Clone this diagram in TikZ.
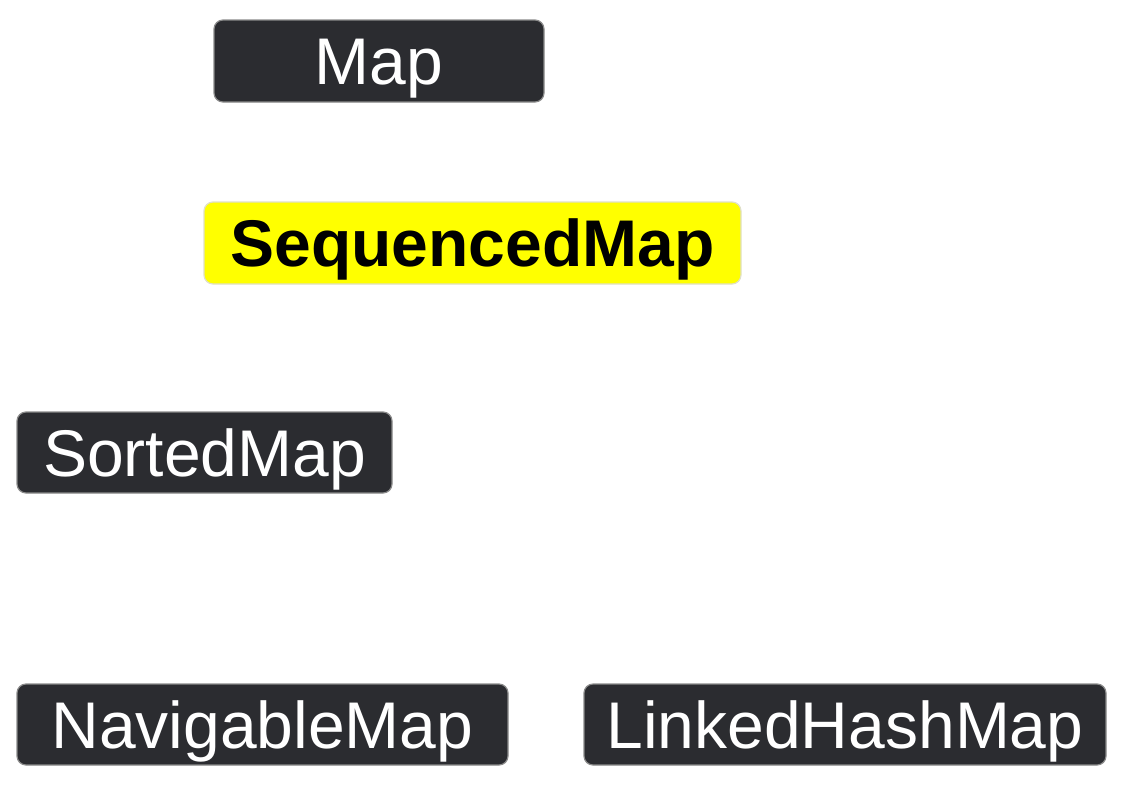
\documentclass[tikz,border=0pt]{standalone}
\usepackage{fontspec}
\setmainfont{Liberation Sans}
\definecolor{boxdark}{HTML}{2B2C30}
\definecolor{boxedge}{HTML}{8A8A8A}
\definecolor{hiedge}{HTML}{E0E0C8}
\definecolor{hiyellow}{HTML}{FFFF00}
\tikzset{
  mapbox/.style={draw=boxedge, line width=1.2pt, fill=boxdark, text=white, rounded corners=9pt,
    inner xsep=0pt, inner ysep=0pt, text height=47pt, text depth=0pt,
    font=\fontsize{66}{70}\selectfont},
  hibox/.style={mapbox, draw=hiedge, fill=hiyellow, text=black, font=\fontsize{66}{70}\selectfont\bfseries}
}
\begin{document}
\begin{tikzpicture}[x=1pt,y=-1pt]
\useasboundingbox (0,0) rectangle (1125,804);
\node[mapbox, minimum width=330pt, minimum height=82pt] (map) at (379,61) {Map};
\node[hibox, minimum width=537pt, minimum height=82pt] (seq) at (472.5,243) {SequencedMap};
\node[mapbox, minimum width=375pt, minimum height=81pt] (sorted) at (204.5,452.5) {SortedMap};
\node[mapbox, minimum width=491pt, minimum height=81pt] (nav) at (262.5,724.5) {NavigableMap};
\node[mapbox, minimum width=522pt, minimum height=81pt] (lhm) at (845,724.5) {LinkedHashMap};
\end{tikzpicture}
\end{document}
